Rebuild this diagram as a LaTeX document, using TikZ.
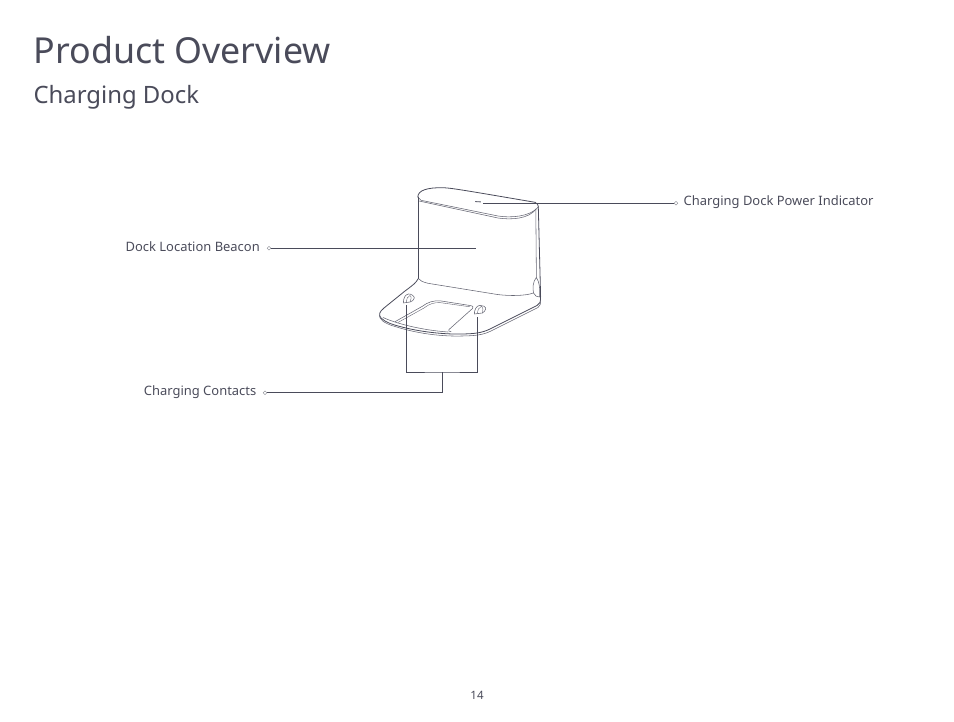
\documentclass[tikz,border=0pt]{standalone}
\usepackage{fontspec}
\setmainfont{Noto Sans}
\definecolor{ink}{HTML}{4A4B5A}
\tikzset{
  leader/.style={draw=ink,line width=0.85pt},
  dockline/.style={draw=ink,line width=0.8pt,line join=round,line cap=round},
  thinline/.style={draw=ink!85,line width=0.55pt,line join=round,line cap=round},
  ring/.style={circle,draw=ink!70,fill=white,line width=0.4pt,inner sep=0pt,minimum size=3.8pt},
  callout/.style={text=ink,inner sep=0pt,font=\fontsize{12.95}{15}\selectfont}
}
\begin{document}
\begin{tikzpicture}[x=1pt,y=-1pt]
  \useasboundingbox (0,0) rectangle (954,722);
  % headings
  \node[text=ink,anchor=base west,inner sep=0pt,font=\fontsize{35.8}{40}\selectfont] (title) at (33.5,63.2) {Product Overview};
  \node[text=ink,anchor=base west,inner sep=0pt,font=\fontsize{23.9}{28}\selectfont] (subtitle) at (33.3,103.5) {Charging Dock};
  \node[text=ink,inner sep=0pt,font=\fontsize{11.5}{13}\selectfont] (pagenum) at (477,695) {14};
  % dock body
  \draw[dockline] (417.8,197) .. controls (418,190) and (428,187.6) .. (442,187.7) .. controls (450,187.8) and (460,189.5) .. (535,202.3) .. controls (537.5,203.5) and (538.3,205) .. (538.4,207);
  \draw[thinline] (417.8,197) .. controls (418.5,198.5) and (419,199.5) .. (421,200.3) -- (498,216) .. controls (510,218) and (530,217) .. (538.4,207);
  \draw[thinline] (419,201) -- (498,218) .. controls (511,220) and (529,219) .. (536,209);
  \draw[dockline] (418.3,197) -- (418.3,278.5);
  \draw[thinline] (535.8,209) -- (536.4,278);
  \draw[dockline] (538.3,207) -- (540.6,296);
  \draw[thinline] (418.3,278.5) .. controls (420,281) and (423,282) .. (428,283.3) -- (498,294.6) .. controls (510,296) and (525,296) .. (533.5,293);
  % side button
  \draw[thinline] (533.5,293) .. controls (532.5,288) and (532.8,282) .. (536.3,277.5) .. controls (539.5,282) and (540,288) .. (539.5,297) .. controls (537,297) and (535,296) .. (533.5,293);
  % base plate
  \draw[dockline] (418.3,278.5) .. controls (416,283) and (413,285) .. (405,291) -- (384,308) .. controls (379,312) and (378.5,315) .. (381,318) .. controls (385,322) and (392,324.5) .. (400,326.5) .. controls (420,332) and (445,334.5) .. (462,334) .. controls (474,333.8) and (482,333) .. (490,329) -- (537,305.5) .. controls (540,304) and (540.8,302) .. (540.6,296);
  \draw[thinline] (379.3,315) .. controls (379,319) and (384,323.5) .. (395,326.5) .. controls (420,334.5) and (445,336.5) .. (462,336) .. controls (475,335.8) and (483,335) .. (491,331) -- (538,307.5) .. controls (540,306) and (540.8,304) .. (540.6,300);
  \draw[thinline] (383,317.5) .. controls (395,323) and (420,330) .. (448,332);
  % recess in the plate
  \draw[thinline] (395,321.7) -- (422,306.5) .. controls (428,302) and (433,300.6) .. (440,300.8) -- (470,305.5) .. controls (473,306) and (474,307) .. (472.5,308.5) -- (449,329.5) .. controls (448,331) and (449,331.5) .. (451,331.7);
  \draw[thinline,line width=0.4pt] (398,322.5) -- (424,308) .. controls (430,303.5) and (434,302.5) .. (440,302.6) -- (470,306.8);
  % contacts
  \draw[thinline] (403.3,303) .. controls (403.5,298) and (405,294.5) .. (408.5,294) .. controls (411,293.7) and (414.5,296) .. (414.3,298) .. controls (414,300) and (412,301.5) .. (410,302) -- cycle;
  \draw[thinline,line width=0.4pt] (406.5,302.6) .. controls (406.5,299) and (407.5,296) .. (410,295.5) .. controls (411.5,296) and (411.5,300) .. (410,302);
  \draw[thinline] (474.3,314) .. controls (474.5,310) and (476,305.8) .. (480,305.3) .. controls (482.5,305) and (486,307) .. (485.7,308.7) .. controls (485.5,310.5) and (484,312.3) .. (482.3,313) -- cycle;
  \draw[thinline,line width=0.4pt] (477.5,313.6) .. controls (477.5,310) and (479,307) .. (481.5,306.3) .. controls (483,307) and (483.5,311) .. (482.3,313);
  % indicator lamp
  \draw[dockline] (475.5,201.6) -- (480.5,201.9);
  % labels
  \node[callout,anchor=base west] (powertext) at (683.5,205.3) {Charging Dock Power Indicator};
  \node[callout,anchor=base east] (beacontext) at (260,251.3) {Dock Location Beacon};
  \node[callout,anchor=base east] (contacttext) at (256.5,395) {Charging Contacts};
  \node[ring] (powerring) at (676,203.3) {};
  \node[ring] (beaconring) at (269,248.3) {};
  \node[ring] (contactring) at (265,392.7) {};
  % leader ends
  \coordinate (powerend) at (483,203.3);
  \coordinate (beaconend) at (476,248.3);
  \coordinate (contactjoin) at (442.5,372);
  \coordinate (contactleft) at (406.3,305);
  \coordinate (contactright) at (477.5,317);
  \draw[leader] (powerring) -- (powerend);
  \draw[leader] (beaconring) -- (beaconend);
  \draw[leader] (contactring) -- (contactjoin |- contactring) -- (contactjoin);
  \draw[leader] (contactleft) |- (contactjoin) -| (contactright);
\end{tikzpicture}
\end{document}
